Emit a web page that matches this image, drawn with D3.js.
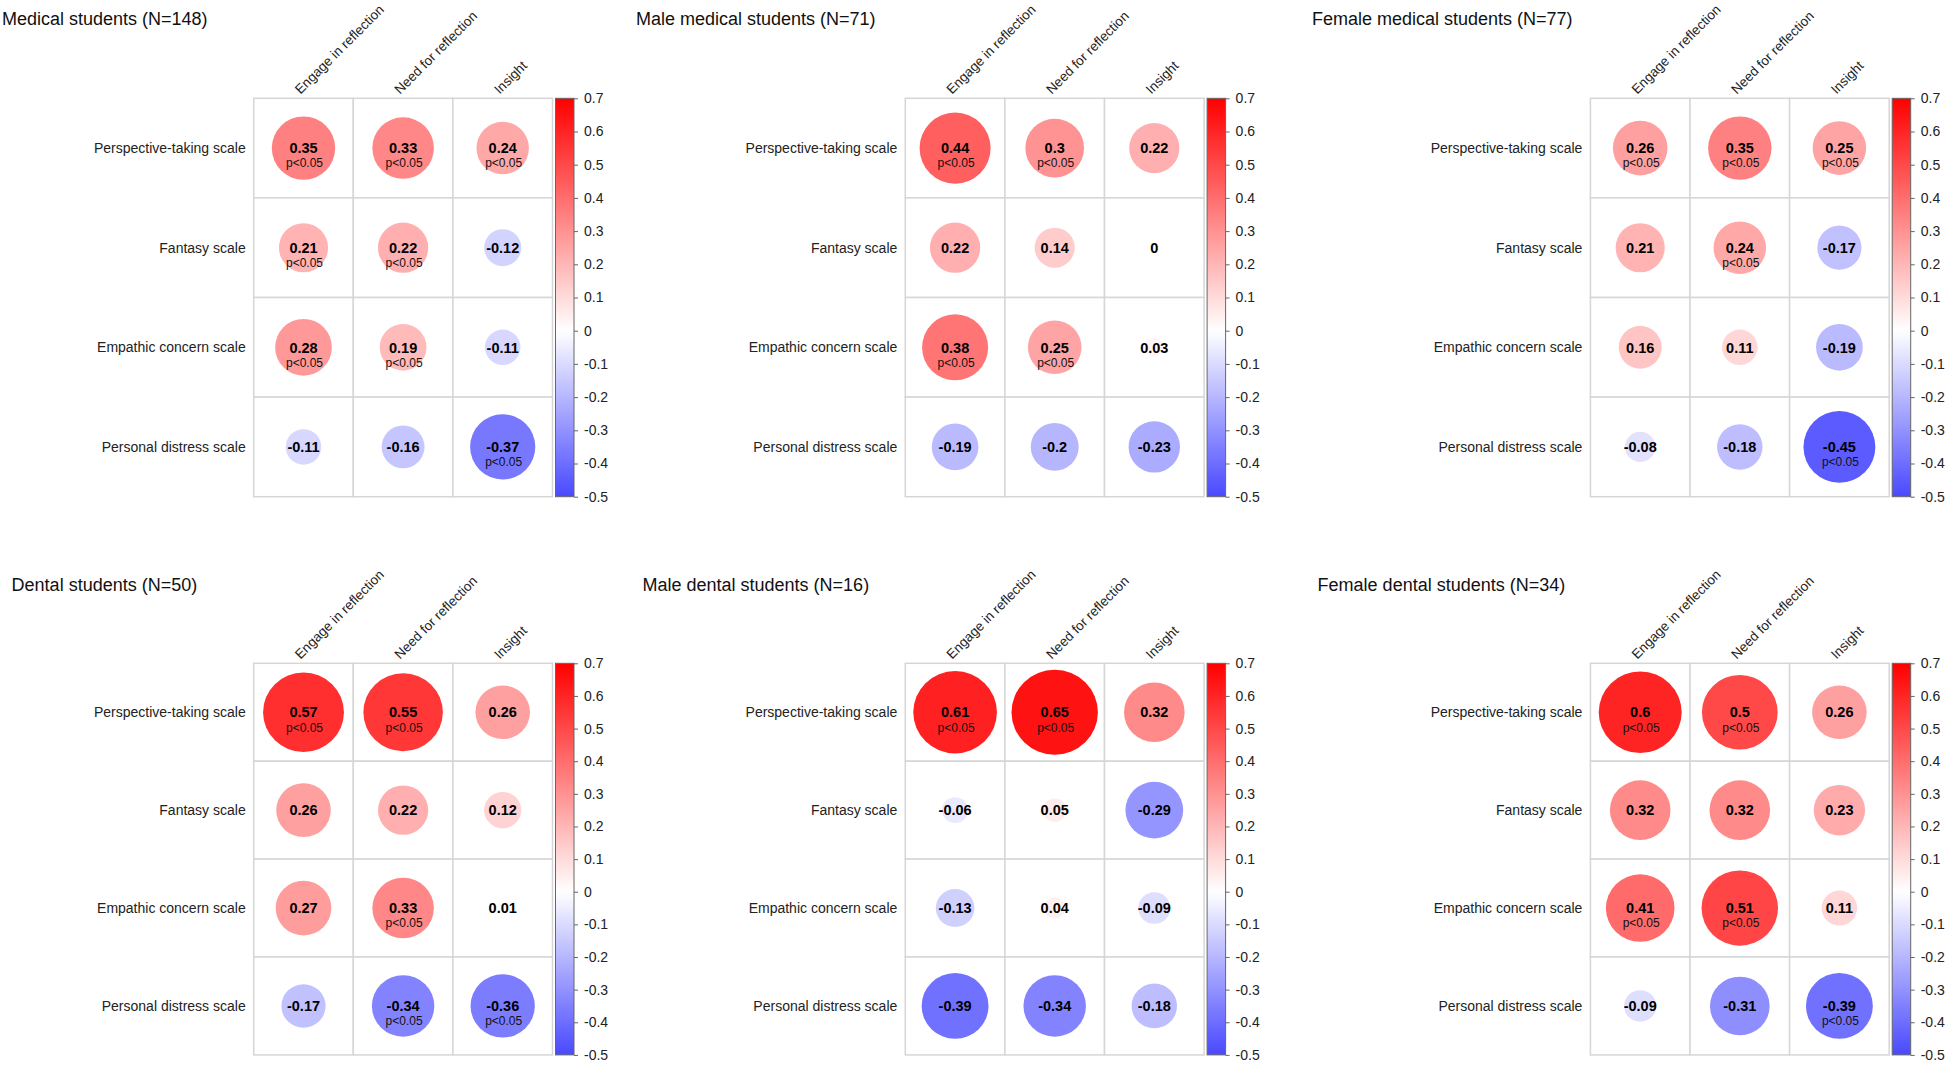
<!DOCTYPE html>
<html><head><meta charset="utf-8">
<script src="https://cdn.jsdelivr.net/npm/d3@7"></script>
<style>
body{margin:0;background:#fff;}
svg{display:block;font-family:"Liberation Sans",Arial,Helvetica,sans-serif;}
</style>
</head><body>
<svg id="chart" width="1946" height="1072"></svg>
<script>
// ---------------- DATA ----------------
const rowLabels = ["Perspective-taking scale", "Fantasy scale", "Empathic concern scale", "Personal distress scale"];
const colLabels = ["Engage in reflection", "Need for reflection", "Insight"];
const colorbarTicks = [-0.5, -0.4, -0.3, -0.2, -0.1, 0, 0.1, 0.2, 0.3, 0.4, 0.5, 0.6, 0.7];
const colorbarLimits = [-0.5, 0.7];
const panelTitles = [
  "Medical students (N=148)", "Male medical students (N=71)", "Female medical students (N=77)",
  "Dental students (N=50)", "Male dental students (N=16)", "Female dental students (N=34)"
];

const medicalValues       = [[0.35, 0.33, 0.24], [0.21, 0.22, -0.12], [0.28, 0.19, -0.11], [-0.11, -0.16, -0.37]];
const medicalSig          = [[1, 1, 1], [1, 1, 0], [1, 1, 0], [0, 0, 1]];
const maleMedicalValues   = [[0.44, 0.3, 0.22], [0.22, 0.14, 0], [0.38, 0.25, 0.03], [-0.19, -0.2, -0.23]];
const maleMedicalSig      = [[1, 1, 0], [0, 0, 0], [1, 1, 0], [0, 0, 0]];
const femaleMedicalValues = [[0.26, 0.35, 0.25], [0.21, 0.24, -0.17], [0.16, 0.11, -0.19], [-0.08, -0.18, -0.45]];
const femaleMedicalSig    = [[1, 1, 1], [0, 1, 0], [0, 0, 0], [0, 0, 1]];
const dentalValues        = [[0.57, 0.55, 0.26], [0.26, 0.22, 0.12], [0.27, 0.33, 0.01], [-0.17, -0.34, -0.36]];
const dentalSig           = [[1, 1, 0], [0, 0, 0], [0, 1, 0], [0, 1, 1]];
const maleDentalValues    = [[0.61, 0.65, 0.32], [-0.06, 0.05, -0.29], [-0.13, 0.04, -0.09], [-0.39, -0.34, -0.18]];
const maleDentalSig       = [[1, 1, 0], [0, 0, 0], [0, 0, 0], [0, 0, 0]];
const femaleDentalValues  = [[0.6, 0.5, 0.26], [0.32, 0.32, 0.23], [0.41, 0.51, 0.11], [-0.09, -0.31, -0.39]];
const femaleDentalSig     = [[1, 1, 0], [0, 0, 0], [1, 1, 0], [0, 0, 1]];

const panelValues = [medicalValues, maleMedicalValues, femaleMedicalValues, dentalValues, maleDentalValues, femaleDentalValues];
const panelSig = [medicalSig, maleMedicalSig, femaleMedicalSig, dentalSig, maleDentalSig, femaleDentalSig];

// ---------------- LAYOUT ----------------
const layout = [
  {titleX: 2,     titleY: 25,  gridX: 253.7,  gridY: 98.3,  cellW: 99.6, cellH: 99.6},
  {titleX: 636,   titleY: 25,  gridX: 905.3,  gridY: 98.3,  cellW: 99.6, cellH: 99.6},
  {titleX: 1312,  titleY: 25,  gridX: 1590.4, gridY: 98.3,  cellW: 99.6, cellH: 99.6},
  {titleX: 11.6,  titleY: 591, gridX: 253.7,  gridY: 663.3, cellW: 99.6, cellH: 97.9},
  {titleX: 642.5, titleY: 591, gridX: 905.3,  gridY: 663.3, cellW: 99.6, cellH: 97.9},
  {titleX: 1317.6,titleY: 591, gridX: 1590.4, gridY: 663.3, cellW: 99.6, cellH: 97.9}
];

const svg = d3.select("#chart");
const color = d3.scaleLinear().domain([-0.7, 0, 0.7]).range(["#0000FF", "#FFFFFF", "#FF0000"]);
const fmtTick = d => d === 0 ? "0" : d.toFixed(1);
const fmtVal = d => String(d);

// gradient for colorbar
const defs = svg.append("defs");
const grad = defs.append("linearGradient").attr("id", "cbgrad")
  .attr("x1", 0).attr("y1", 1).attr("x2", 0).attr("y2", 0);
const gradSteps = d3.range(0, 1.0001, 0.02);
grad.selectAll("stop").data(gradSteps).join("stop")
  .attr("offset", t => t)
  .attr("stop-color", t => color(colorbarLimits[0] + t * (colorbarLimits[1] - colorbarLimits[0])));

panelValues.forEach((vals, p) => {
  const L = layout[p];
  const g = svg.append("g");
  const nC = colLabels.length, nR = rowLabels.length;
  const x = d3.scaleBand().domain(colLabels).range([L.gridX, L.gridX + nC * L.cellW]).padding(0);
  const y = d3.scaleBand().domain(rowLabels).range([L.gridY, L.gridY + nR * L.cellH]).padding(0);
  const rX = d3.scaleSqrt().domain([0, 0.7]).range([0, 0.9 * x.bandwidth() / 2]);
  const rY = d3.scaleSqrt().domain([0, 0.7]).range([0, 0.9 * y.bandwidth() / 2]);

  // title
  g.append("text").attr("x", L.titleX).attr("y", L.titleY)
    .attr("font-size", 18).attr("fill", "#111").text(panelTitles[p]);

  // cells data
  const cells = [];
  rowLabels.forEach((r, i) => colLabels.forEach((c, j) => cells.push({r, c, v: vals[i][j], s: panelSig[p][i][j]})));

  // grid
  const gridColor = "#d6d6d6";
  g.selectAll("rect.cell").data(cells).join("rect")
    .attr("x", d => x(d.c)).attr("y", d => y(d.r))
    .attr("width", x.bandwidth()).attr("height", y.bandwidth())
    .attr("fill", "#fff").attr("stroke", gridColor).attr("stroke-width", 1.5);

  // circles
  g.selectAll("ellipse").data(cells).join("ellipse")
    .attr("cx", d => x(d.c) + x.bandwidth() / 2)
    .attr("cy", d => y(d.r) + y.bandwidth() / 2)
    .attr("rx", d => rX(Math.abs(d.v)))
    .attr("ry", d => rY(Math.abs(d.v)))
    .attr("fill", d => color(d.v));

  // values
  g.selectAll("text.val").data(cells).join("text").attr("class", "val")
    .attr("x", d => x(d.c) + x.bandwidth() / 2)
    .attr("y", d => y(d.r) + y.bandwidth() / 2)
    .attr("dy", "0.36em")
    .attr("text-anchor", "middle").attr("font-size", 14.5).attr("font-weight", "bold").attr("fill", "#000")
    .text(d => fmtVal(d.v));
  g.selectAll("text.sig").data(cells.filter(d => d.s)).join("text").attr("class", "sig")
    .attr("x", d => x(d.c) + x.bandwidth() / 2 + 1)
    .attr("y", d => y(d.r) + y.bandwidth() / 2 + 15)
    .attr("dy", "0.36em")
    .attr("text-anchor", "middle").attr("font-size", 12).attr("fill", "#111")
    .text("p<0.05");

  // row labels
  g.selectAll("text.row").data(rowLabels).join("text").attr("class", "row")
    .attr("x", L.gridX - 8).attr("y", d => y(d) + y.bandwidth() / 2).attr("dy", "0.36em")
    .attr("text-anchor", "end").attr("font-size", 14).attr("fill", "#222").text(d => d);

  // column labels
  g.selectAll("text.col").data(colLabels).join("text").attr("class", "col")
    .attr("transform", d => `translate(${x(d) + x.bandwidth() / 2 - 3},${L.gridY - 3.5}) rotate(-45)`)
    .attr("font-size", 13.5).attr("fill", "#222").text(d => d);

  // colorbar
  const cbX = L.gridX + nC * L.cellW + 3, cbW = 18.5;
  const cbScale = d3.scaleLinear().domain(colorbarLimits).range([L.gridY + nR * L.cellH, L.gridY]);
  g.append("rect").attr("x", cbX).attr("y", L.gridY).attr("width", cbW)
    .attr("height", nR * L.cellH).attr("fill", "url(#cbgrad)")
    .attr("stroke", "#666").attr("stroke-width", 1);
  const axis = d3.axisRight(cbScale).tickValues(colorbarTicks).tickFormat(fmtTick).tickSize(4).tickPadding(6);
  const ag = g.append("g").attr("transform", `translate(${cbX + cbW},0)`).call(axis);
  ag.select(".domain").remove();
  ag.selectAll(".tick line").attr("stroke", "#666");
  ag.selectAll(".tick text").attr("font-size", 14).attr("fill", "#222")
    .attr("font-family", '"Liberation Sans",Arial,sans-serif');
});
</script>
</body></html>
